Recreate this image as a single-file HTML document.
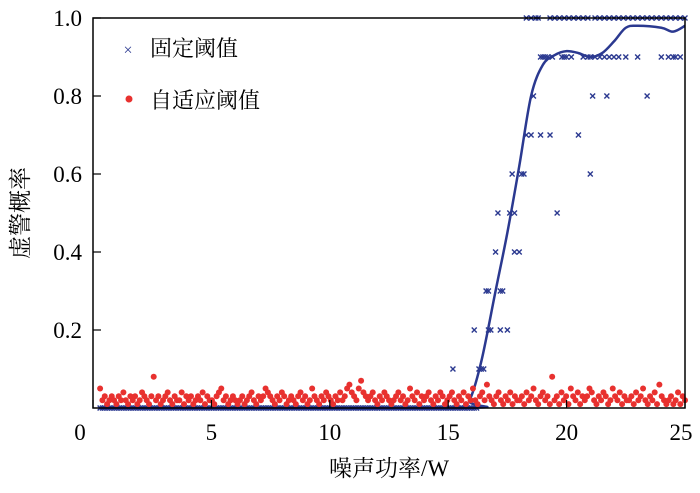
<!DOCTYPE html>
<html><head><meta charset="utf-8"><style>
body{margin:0;background:#fff}
svg text{font-family:"Liberation Serif","Noto Serif CJK SC",serif}
</style></head><body>
<svg width="700" height="488" viewBox="0 0 700 488" xmlns="http://www.w3.org/2000/svg">
<g id="marks"></g>
<rect x="93" y="18" width="592" height="390" fill="none" stroke="#000" stroke-width="1.5"/>
<g id="axes"></g>
<text x="389" y="476" font-size="23" text-anchor="middle">噪声功率/W</text>
<text transform="translate(28,213) rotate(-90)" font-size="23" text-anchor="middle">虚警概率</text>
<g>
<text x="128" y="55" font-size="16" fill="#2b3990" text-anchor="middle">×</text>
<text x="150" y="56" font-size="22">固定阈值</text>
<circle cx="129" cy="99" r="3.5" fill="#e8312f"/>
<text x="150" y="108" font-size="22">自适应阈值</text>
</g>
</svg>
<script>
const xTicks=[0,5,10,15,20,25];
const yTicks=[0.2,0.4,0.6,0.8,1.0];
const yTickLabels=["0.2","0.4","0.6","0.8","1.0"];
const redStart=0.3, redEnd=25;
const redY=[0.05,0.02,0.03,0.01,0.02,0.03,0.02,0.01,0.03,0.02,0.04,0.02,0.01,0.03,0.02,0.03,0.01,0.02,0.04,0.03,0.02,0.01,0.03,0.08,0.02,0.03,0.01,0.02,0.03,0.04,0.02,0.01,0.03,0.02,0.02,0.04,0.01,0.03,0.02,0.03,0.01,0.02,0.03,0.02,0.04,0.01,0.03,0.02,0.02,0.01,0.03,0.04,0.05,0.02,0.03,0.01,0.02,0.03,0.02,0.01,0.02,0.03,0.01,0.02,0.03,0.04,0.02,0.01,0.03,0.02,0.03,0.05,0.04,0.03,0.02,0.01,0.03,0.02,0.04,0.03,0.01,0.02,0.03,0.02,0.01,0.03,0.04,0.02,0.03,0.01,0.02,0.05,0.03,0.02,0.01,0.03,0.02,0.04,0.03,0.02,0.01,0.03,0.02,0.04,0.02,0.03,0.05,0.06,0.04,0.03,0.02,0.05,0.07,0.04,0.03,0.02,0.03,0.04,0.02,0.01,0.03,0.02,0.04,0.03,0.02,0.01,0.02,0.03,0.04,0.02,0.03,0.01,0.02,0.05,0.03,0.02,0.04,0.01,0.03,0.02,0.03,0.04,0.02,0.01,0.03,0.02,0.04,0.03,0.01,0.02,0.03,0.04,0.02,0.01,0.03,0.02,0.04,0.01,0.03,0.02,0.05,0.02,0.01,0.03,0.04,0.02,0.06,0.03,0.02,0.01,0.03,0.04,0.02,0.01,0.03,0.02,0.04,0.01,0.03,0.02,0.02,0.03,0.01,0.04,0.02,0.03,0.05,0.02,0.01,0.03,0.04,0.02,0.03,0.01,0.08,0.02,0.03,0.01,0.04,0.02,0.03,0.01,0.05,0.03,0.02,0.04,0.01,0.03,0.02,0.03,0.05,0.04,0.02,0.01,0.03,0.02,0.04,0.03,0.01,0.02,0.05,0.03,0.02,0.04,0.01,0.03,0.02,0.02,0.03,0.01,0.04,0.02,0.03,0.05,0.02,0.01,0.03,0.02,0.04,0.01,0.06,0.03,0.02,0.01,0.02,0.03,0.01,0.02,0.04,0.01,0.03,0.02];
const blueX=[15.2,16.3,16.4,16.5,16.1,16.7,16.8,17.2,17.5,16.6,16.7,17.2,17.3,17.0,17.8,18.0,17.1,17.6,17.8,19.6,17.7,18.1,18.2,21.0,18.3,18.5,18.9,19.3,20.5,18.6,21.1,21.7,23.4,18.9,19.0,19.1,19.2,19.4,19.8,19.9,20.0,20.2,20.7,20.9,21.0,21.2,21.4,21.6,21.8,22.0,22.2,22.5,23.0,24.0,24.3,24.5,24.6,24.8,18.3,18.5,18.7,18.8,19.3,19.5,19.7,19.9,20.1,20.3,20.5,20.7,20.9,21.2,21.4,21.6,21.8,22.0,22.2,22.4,22.6,22.8,23.0,23.2,23.4,23.6,23.8,24.0,24.2,24.4,24.6,24.8,25.0];
const blueY=[0.1,0.1,0.1,0.1,0.2,0.2,0.2,0.2,0.2,0.3,0.3,0.3,0.3,0.4,0.4,0.4,0.5,0.5,0.5,0.5,0.6,0.6,0.6,0.6,0.7,0.7,0.7,0.7,0.7,0.8,0.8,0.8,0.8,0.9,0.9,0.9,0.9,0.9,0.9,0.9,0.9,0.9,0.9,0.9,0.9,0.9,0.9,0.9,0.9,0.9,0.9,0.9,0.9,0.9,0.9,0.9,0.9,0.9,1,1,1,1,1,1,1,1,1,1,1,1,1,1,1,1,1,1,1,1,1,1,1,1,1,1,1,1,1,1,1,1,1];
const zeroStart=0.3, zeroEnd=16.2, zeroStep=0.1;
const curveX=[0.3,15.4,15.9,16.4,17,17.5,18,18.5,19,19.5,20,20.5,21,21.5,22,22.5,23,24,24.5,25];
const curveY=[0,0,0.02,0.12,0.3,0.45,0.62,0.8,0.88,0.905,0.915,0.91,0.9,0.91,0.94,0.975,0.98,0.975,0.965,0.98];

const NS="http://www.w3.org/2000/svg";
const sx=v=>93+v*23.68, sy=v=>408-v*390;
const marks=document.getElementById('marks'), axes=document.getElementById('axes');
function mk(t,a,p){const e=document.createElementNS(NS,t);for(const k in a)e.setAttribute(k,a[k]);p.appendChild(e);return e;}
xTicks.forEach(t=>{
 const l=mk('line',{x1:sx(t),x2:sx(t),y1:408,y2:400,stroke:'#000','stroke-width':1.2},axes);
 
 
 const tx=mk('text',{x:t===0?80:(t===25?681:sx(t)),y:440,'font-size':23,'text-anchor':'middle'},axes);
 tx.textContent=String(t);
 
 
});
yTicks.forEach((t,i)=>{
 const l=mk('line',{x1:93,x2:101,y1:sy(t),y2:sy(t),stroke:'#000','stroke-width':1.2},axes);
 
 
 const tx=mk('text',{x:82,y:sy(t)+8,'font-size':23,'text-anchor':'end'},axes);
 tx.textContent=yTickLabels[i];
 
 
});
function cross(x,y){
 const g=mk('path',{d:`M${sx(x)-2.5},${sy(y)-2.5}l5,5m0,-5l-5,5`,stroke:'#2b3990','stroke-width':1.4,fill:'none'},marks);
 
 
}
for(let x=zeroStart;x<=zeroEnd+1e-9;x+=zeroStep)cross(x,0);
blueX.forEach((x,i)=>cross(x,blueY[i]));
let pts=curveX.map((x,i)=>[sx(x),sy(curveY[i])]);
let d='M'+pts[0][0]+','+pts[0][1];
for(let i=0;i<pts.length-1;i++){const p0=pts[Math.max(0,i-1)],p1=pts[i],p2=pts[i+1],p3=pts[Math.min(pts.length-1,i+2)];
 d+=` C${p1[0]+(p2[0]-p0[0])/6},${p1[1]+(p2[1]-p0[1])/6} ${p2[0]-(p3[0]-p1[0])/6},${p2[1]-(p3[1]-p1[1])/6} ${p2[0]},${p2[1]}`;}
const c=mk('path',{d:d,stroke:'#2b3990','stroke-width':2.5,fill:'none'},marks);


const redStep=(redEnd-redStart)/(redY.length-1);
redY.forEach((v,i)=>{
 const e=mk('circle',{cx:sx(redStart+i*redStep),cy:sy(v),r:3,fill:'#e8312f'},marks);
 
 
});
</script>
</body></html>
